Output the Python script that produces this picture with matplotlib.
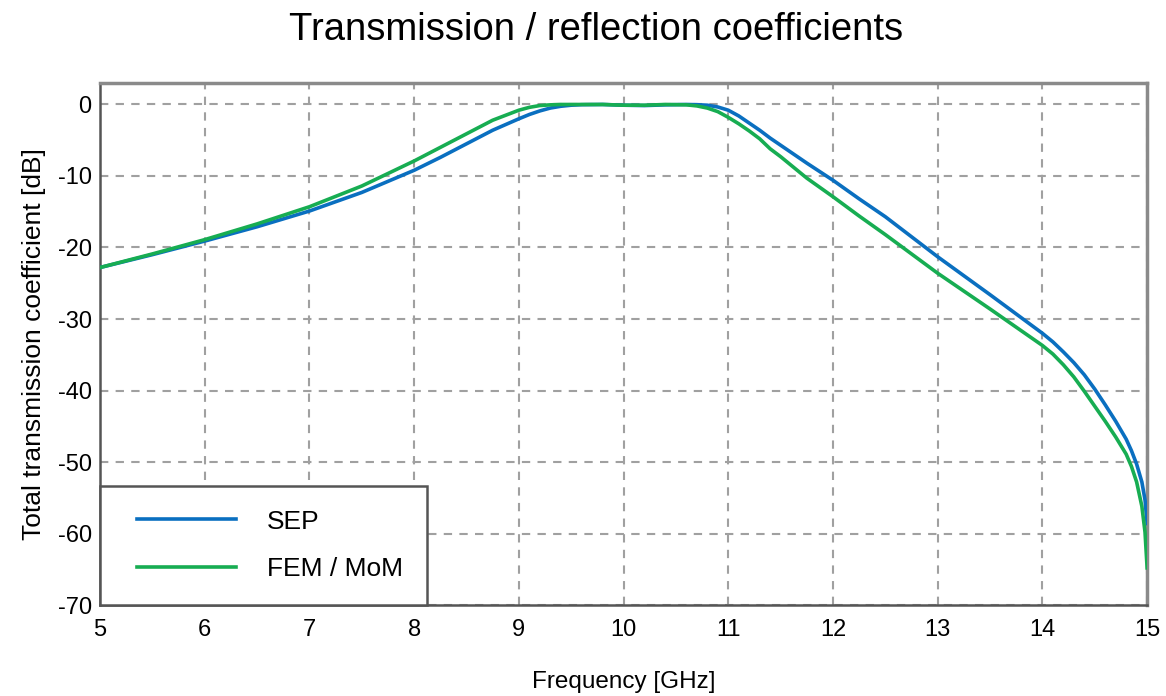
import matplotlib
matplotlib.use("Agg")
import matplotlib.pyplot as plt
from matplotlib.legend_handler import HandlerLine2D

plt.rcParams['font.family'] = ['Liberation Sans', 'DejaVu Sans']
plt.rcParams['axes.unicode_minus'] = False

# frequency points [GHz]
freq = [5.0, 5.5, 6.0, 6.5, 7.0, 7.5, 8.0, 8.25, 8.5, 8.75, 9.0, 9.1, 9.2, 9.3,
        9.4, 9.5, 9.6, 9.8, 10.0, 10.2, 10.4, 10.6, 10.7, 10.8, 10.9, 11.0,
        11.1, 11.2, 11.3, 11.4, 11.5, 11.75, 12.0, 12.25, 12.5, 13.0, 13.5,
        14.0, 14.1, 14.2, 14.3, 14.4, 14.5, 14.6, 14.7, 14.8, 14.85, 14.9, 14.95, 14.98, 15.0]

# total transmission coefficient [dB]
sep = [-22.8, -21.0, -19.1, -17.1, -14.9, -12.3, -9.2, -7.4, -5.5, -3.6, -2.0, -1.4, -0.9, -0.5,
       -0.25, -0.1, -0.03, 0.0, -0.1, -0.15, -0.05, 0.0, -0.03, -0.1, -0.35, -0.8,
       -1.6, -2.6, -3.6, -4.7, -5.7, -8.2, -10.6, -13.2, -15.7, -21.3, -26.6,
       -32.0, -33.2, -34.6, -36.1, -37.8, -39.8, -42.0, -44.3, -46.8, -48.4, -50.3, -52.8, -55.3, -58.6]
fem_mom = [-22.8, -20.9, -18.9, -16.7, -14.3, -11.4, -7.9, -6.0, -4.1, -2.2, -0.8, -0.4, -0.15, -0.05,
           0.0, 0.0, 0.0, 0.0, -0.1, -0.1, 0.0, -0.05, -0.2, -0.5, -1.0, -1.8,
           -2.7, -3.7, -4.8, -6.2, -7.3, -10.3, -12.9, -15.6, -18.2, -23.6, -28.6,
           -33.7, -34.9, -36.4, -38.1, -40.1, -42.2, -44.3, -46.5, -48.9, -50.6, -52.8, -56.2, -59.8, -64.8]

xticks = list(range(5, 16))
yticks = list(range(-70, 1, 10))

fig = plt.figure(figsize=(11.66, 6.96), dpi=100)
ax = fig.add_axes([0.0858, 0.1307, 0.898, 0.75])

ax.plot(freq, sep, color='#0a6fc0', lw=2.6, label='SEP', zorder=3)
ax.plot(freq, fem_mom, color='#17ad52', lw=2.6, label='FEM / MoM', zorder=3)

ax.set_xlim(5, 15)
ax.set_ylim(-70, 3)
ax.set_xticks(xticks)
ax.set_yticks(yticks)
ax.tick_params(length=0, labelsize=17)
ax.tick_params(axis='x', pad=10)
ax.tick_params(axis='y', pad=6)
ax.grid(True, color='#a0a0a0', lw=1.5, linestyle=(0, (4, 3.5)))

for side in ['left', 'bottom']:
    ax.spines[side].set_color('#555555')
    ax.spines[side].set_linewidth(1.8)
for side in ['top', 'right']:
    ax.spines[side].set_color('#8a8a8a')
    ax.spines[side].set_linewidth(2.5)

ax.set_title('Transmission / reflection coefficients', fontsize=27.5, pad=31, x=0.474)
ax.set_xlabel('Frequency [GHz]', fontsize=17.5, labelpad=22)
ax.set_ylabel('Total transmission coefficient [dB]', fontsize=19, labelpad=8)

# shift the legend lines a bit right inside their handle boxes
handler = HandlerLine2D(xpad=0.5)
leg = ax.legend(loc='lower left', bbox_to_anchor=(0, 0), borderaxespad=0,
                fontsize=19, fancybox=False, framealpha=1, edgecolor='#555555',
                borderpad=0.9, handlelength=4.25, handletextpad=1.17,
                labelspacing=0.9,
                handler_map={ax.lines[0]: handler, ax.lines[1]: handler})
leg.get_frame().set_linewidth(1.8)
leg.set_zorder(5)

fig.savefig('out.png', dpi=100)
